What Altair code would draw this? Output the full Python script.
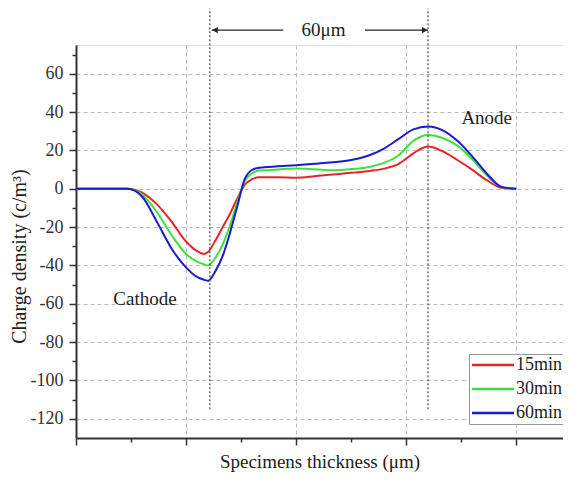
import altair as alt
import pandas as pd

# ---- data ----
x_um = [0, 10, 14, 18, 22, 26, 30, 33, 35, 36, 38, 40, 42, 44, 46, 48, 50, 55, 60,
        65, 70, 75, 80, 84, 88, 92, 96, 100, 104, 108, 112, 116, 120]
min15 = [0, 0, 0, -2, -8, -17, -27.5, -32.5, -34, -33, -27, -20, -13, -5, 2, 5, 6, 6, 5.8,
         6.5, 7.5, 8.3, 9.3, 10.5, 13, 18.5, 22, 19.5, 15, 10, 4.5, 0.5, 0]
min30 = [0, 0, 0, -3, -12, -24, -34, -38, -39.5, -40, -36, -29, -19, -7, 4, 8, 9.5, 10, 10.6,
         10.2, 9.7, 10.3, 11.4, 13.5, 17.5, 25, 28, 26.5, 22.5, 15.5, 7, 1, 0]
min60 = [0, 0, 0, -4, -17, -31, -41, -46, -47.5, -48, -43, -35, -23, -9, 5, 9.8, 11, 11.7, 12.3,
         13, 13.8, 15, 17.5, 21, 26, 31, 32.5, 30.5, 25, 17, 8, 1, 0]
series_names = ["15min", "30min", "60min"]
series_colors = ["#e8232a", "#3be23b", "#1a1ad2"]

y_major = [-120, -100, -80, -60, -40, -20, 0, 20, 40, 60]
y_minor = [-110, -90, -70, -50, -30, -10, 10, 30, 50, 70]
x_major = [0, 30, 60, 90, 120]
x_minor = [15, 45, 75, 105]

x_dom = [0, 132.8]
y_dom = [-130, 75]

# annotations (data coordinates)
guide_x = [36.5, 96]
guide_y = [-115, 94]
arrow_y = 82.8
arrow_left = [37, 56.5]
arrow_right = [78.8, 96]
span_label = "60μm"
span_label_x = 67.5
labels_txt = ["Cathode", "Anode"]
labels_x = [18.8, 112]
labels_y = [-57.5, 37]

FONT = "Liberation Serif"
AX = "#333333"

rows = []
for name, vals in zip(series_names, [min15, min30, min60]):
    for xv, yv in zip(x_um, vals):
        rows.append({"x": xv, "y": yv, "series": name})
df = pd.DataFrame(rows)

xs = alt.Scale(domain=x_dom, nice=False, zero=False)
ys = alt.Scale(domain=y_dom, nice=False, zero=False)

lines = alt.Chart(df).mark_line(strokeWidth=2, interpolate="monotone").encode(
    x=alt.X("x:Q", scale=xs, title="Specimens thickness (μm)",
            axis=alt.Axis(orient="bottom", values=x_major, labels=False, tickSize=7,
                          tickWidth=1.5, domainWidth=2, domainColor=AX, tickColor=AX,
                          grid=True, gridDash=[4, 3], gridColor="#bbbbbb",
                          titleFont=FONT, titleFontSize=19, titleFontWeight="normal",
                          titleColor="#222", titlePadding=7)),
    y=alt.Y("y:Q", scale=ys, title="Charge density (c/m³)",
            axis=alt.Axis(orient="left", values=y_major, tickSize=7, tickWidth=1.5,
                          domainWidth=2, domainColor=AX, tickColor=AX,
                          labelFont=FONT, labelFontSize=18, labelColor="#333",
                          labelPadding=6, labelExpr="replace(datum.label, '−', '-')",
                          grid=True, gridDash=[4, 3], gridColor="#bbbbbb",
                          titleFont=FONT, titleFontSize=20, titleFontWeight="normal",
                          titleColor="#222", titleX=-56.5, titleY=211,
                          titleAngle=270, titleBaseline="middle", titleAlign="center")),
    color=alt.Color("series:N", scale=alt.Scale(domain=series_names, range=series_colors),
                    legend=alt.Legend(orient="none", legendX=393, legendY=309, title=None,
                                      symbolType="M-3,0L3,0", symbolStrokeWidth=2.5,
                                      symbolSize=196, symbolOffset=13,
                                      labelFont=FONT, labelFontSize=18,
                                      labelColor="#222", strokeColor="#999999",
                                      fillColor="white", padding=2, rowPadding=6,
                                      labelOffset=14)),
)

minor = alt.Chart(df).mark_point(opacity=0).encode(
    x=alt.X("x:Q", scale=xs, title=None,
            axis=alt.Axis(orient="bottom", values=x_minor, labels=False, tickSize=4,
                          tickWidth=1.5, tickColor=AX, domain=False, grid=False)),
    y=alt.Y("y:Q", scale=ys, title=None,
            axis=alt.Axis(orient="left", values=y_minor, labels=False, tickSize=4,
                          tickWidth=1.5, tickColor=AX, domain=False, grid=False)),
)

guides = alt.Chart(pd.DataFrame({"x": guide_x})).mark_rule(
    strokeDash=[2, 2], color="#444", strokeWidth=1.2, clip=False
).encode(
    x=alt.X("x:Q", scale=xs, axis=None),
    y=alt.Y("lo:Q", scale=ys, axis=None),
    y2="hi:Q",
).transform_calculate(lo=str(guide_y[0]), hi=str(guide_y[1]))

arrows = alt.Chart(pd.DataFrame({"x1": [arrow_left[0], arrow_right[0]],
                                 "x2": [arrow_left[1], arrow_right[1]],
                                 "y": [arrow_y, arrow_y]})).mark_rule(
    color="#222", strokeWidth=1.2, clip=False
).encode(
    x=alt.X("x1:Q", scale=xs, axis=None), x2="x2:Q",
    y=alt.Y("y:Q", scale=ys, axis=None),
)

heads = alt.Chart(pd.DataFrame({"x": [arrow_left[0] + 0.9, arrow_right[1] - 0.9],
                                "shape": ["triangle-left", "triangle-right"],
                                "y": [arrow_y, arrow_y]})).mark_point(
    filled=True, color="#222", size=40, opacity=1, clip=False
).encode(
    x=alt.X("x:Q", scale=xs, axis=None),
    y=alt.Y("y:Q", scale=ys, axis=None),
    shape=alt.Shape("shape:N", scale=None),
)

span_text = alt.Chart(pd.DataFrame({"x": [span_label_x], "y": [arrow_y], "t": [span_label]})).mark_text(
    font=FONT, fontSize=19, color="#222", baseline="middle", clip=False
).encode(
    x=alt.X("x:Q", scale=xs, axis=None),
    y=alt.Y("y:Q", scale=ys, axis=None),
    text="t:N",
)

ann = alt.Chart(pd.DataFrame({"x": labels_x, "y": labels_y, "t": labels_txt})).mark_text(
    font=FONT, fontSize=19, color="#222", baseline="middle"
).encode(
    x=alt.X("x:Q", scale=xs, axis=None),
    y=alt.Y("y:Q", scale=ys, axis=None),
    text="t:N",
)

chart = alt.layer(lines, minor, guides, arrows, heads, span_text, ann).resolve_axis(
    x="independent", y="independent"
).properties(
    width=487, height=393,
    padding={"left": 68, "top": 37, "right": 0, "bottom": 36},
    autosize=alt.AutoSizeParams(type="none"),
).configure_view(stroke=None).configure(background="white")

chart.save("out.html", embed_options={"renderer": "svg", "actions": False})
